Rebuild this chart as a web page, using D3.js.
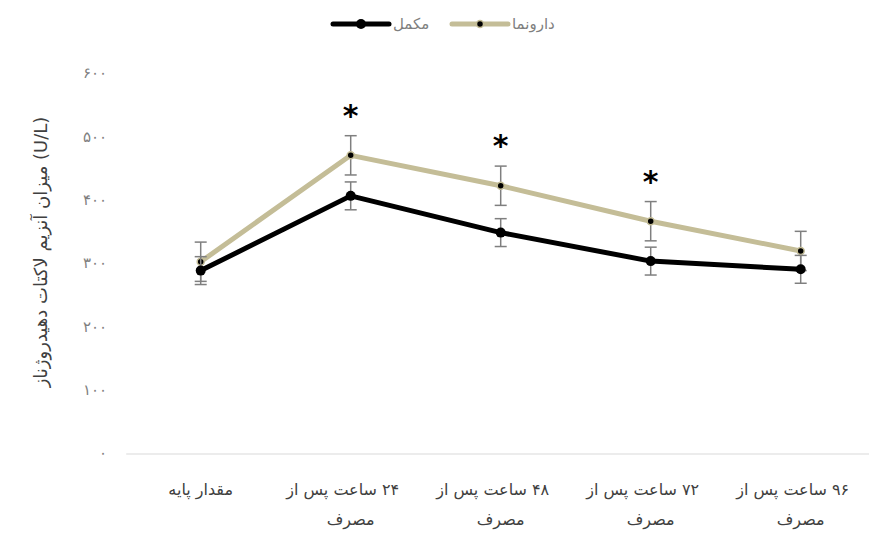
<!DOCTYPE html>
<html>
<head>
<meta charset="utf-8">
<script src="https://cdn.jsdelivr.net/npm/d3@7"></script>
<style>
  body { margin: 0; background: #fff; }
  svg { display: block; font-family: "DejaVu Sans", "Noto Sans", sans-serif; }
</style>
</head>
<body>
<div id="chart"></div>
<script>
// categories (each label split in its wrapped lines)
var categories = ["base", "h24", "h48", "h72", "h96"];
var categoryLines = [
    ["مقدار پایه"],
    ["۲۴ ساعت پس از", "مصرف"],
    ["۴۸ ساعت پس از", "مصرف"],
    ["۷۲ ساعت پس از", "مصرف"],
    ["۹۶ ساعت پس از", "مصرف"]
];

// series values (U/L) and standard errors
var placeboValues = [302, 470, 422, 366, 319];
var placeboErrors = [31, 31, 31, 31, 31];
var supplementValues = [288, 406, 348, 303, 290];
var supplementErrors = [22, 22, 22, 22, 22];
var significant = [false, true, true, true, false];

var yTicks = [0, 100, 200, 300, 400, 500, 600];
var yTickLabels = ["۰", "۱۰۰", "۲۰۰", "۳۰۰", "۴۰۰", "۵۰۰", "۶۰۰"];

var seriesNames = ["مکمل", "دارونما"];

var W = 869, H = 535;
var svg = d3.select("#chart").append("svg").attr("width", W).attr("height", H);

var x = d3.scaleBand().domain(categories).range([125.7, 875.7]);
var y = d3.scaleLinear().domain([0, 600]).range([453, 73]);
function cx(i) { return x(categories[i]) + x.bandwidth() / 2; }

// y tick labels (no axis line, no grid)
var yAxis = svg.append("g")
    .attr("transform", "translate(107,0)")
    .call(d3.axisLeft(y).tickValues(yTicks).tickSize(0).tickPadding(0)
        .tickFormat(function(d, i) { return yTickLabels[i]; }));
yAxis.select(".domain").remove();
yAxis.selectAll("text")
    .style("font-size", "15px")
    .style("letter-spacing", "5px")
    .style("fill", "#7f7f7f");

// category axis
var xAxis = svg.append("g").attr("transform", "translate(0,453.5)")
    .call(d3.axisBottom(x).tickSize(0).tickFormat(""));
xAxis.select(".domain").attr("stroke", "#d9d9d9").attr("stroke-width", 1);

var labels = svg.append("g");
categoryLines.forEach(function(lines, i) {
    lines.forEach(function(t, j) {
        labels.append("text")
            .attr("x", cx(i) - (lines.length > 1 && j === 0 ? 8 : 0))
            .attr("y", 495 + j * 30)
            .attr("text-anchor", "middle")
            .attr("direction", "rtl")
            .style("font-size", "16px")
            .style("fill", "#404040")
            .text(t);
    });
});

// y title
svg.append("text")
    .attr("transform", "translate(47,252) rotate(-90)")
    .attr("text-anchor", "middle")
    .style("font-size", "18px")
    .style("fill", "#404040")
    .text("میزان آنزیم لاکتات دهیدروژناز (U/L)");

var line = d3.line().x(function(d, i) { return cx(i); }).y(function(d) { return y(d); });

function drawErrors(values, errors) {
    var g = svg.append("g").attr("stroke", "#7f7f7f").attr("stroke-width", 1.5);
    values.forEach(function(v, i) {
        var top = y(v + errors[i]), bot = y(v - errors[i]);
        g.append("line").attr("x1", cx(i)).attr("x2", cx(i)).attr("y1", top).attr("y2", bot);
        g.append("line").attr("x1", cx(i) - 6).attr("x2", cx(i) + 6).attr("y1", top).attr("y2", top);
        g.append("line").attr("x1", cx(i) - 6).attr("x2", cx(i) + 6).attr("y1", bot).attr("y2", bot);
    });
}

// placebo series
svg.append("path").datum(placeboValues)
    .attr("d", line).attr("fill", "none")
    .attr("stroke", "#c4bd97").attr("stroke-width", 5).attr("stroke-linejoin", "round");
drawErrors(placeboValues, placeboErrors);
svg.selectAll(".m-placebo").data(placeboValues).enter().append("circle")
    .attr("class", "m-placebo")
    .attr("cx", function(d, i) { return cx(i); })
    .attr("cy", function(d) { return y(d); })
    .attr("r", 3.5).attr("fill", "#000").attr("stroke", "#c4bd97").attr("stroke-width", 1.5);

// supplement series
svg.append("path").datum(supplementValues)
    .attr("d", line).attr("fill", "none")
    .attr("stroke", "#000").attr("stroke-width", 5).attr("stroke-linejoin", "round");
drawErrors(supplementValues, supplementErrors);
svg.selectAll(".m-supp").data(supplementValues).enter().append("circle")
    .attr("class", "m-supp")
    .attr("cx", function(d, i) { return cx(i); })
    .attr("cy", function(d) { return y(d); })
    .attr("r", 5).attr("fill", "#000");

// significance stars
significant.forEach(function(s, i) {
    if (!s) return;
    svg.append("text")
        .attr("x", cx(i))
        .attr("y", y(placeboValues[i] + placeboErrors[i]) - 10)
        .attr("text-anchor", "middle")
        .style("font-size", "30px")
        .style("font-weight", "bold")
        .style("fill", "#000")
        .text("*");
});

// legend
var legend = svg.append("g");
var legendX = [333, 452];
var legendColors = ["#000", "#c4bd97"];
seriesNames.forEach(function(name, i) {
    var lx = legendX[i];
    legend.append("line").attr("x1", lx).attr("x2", lx + 56).attr("y1", 24).attr("y2", 24)
        .attr("stroke", legendColors[i]).attr("stroke-width", 5).attr("stroke-linecap", "round");
    if (i === 0) {
        legend.append("circle").attr("cx", lx + 28).attr("cy", 24).attr("r", 5).attr("fill", "#000");
    } else {
        legend.append("circle").attr("cx", lx + 28).attr("cy", 24).attr("r", 3.5)
            .attr("fill", "#000").attr("stroke", "#c4bd97").attr("stroke-width", 1.5);
    }
    legend.append("text").attr("x", lx + 60).attr("y", 29)
        .style("font-size", "15px").style("fill", "#7f7f7f")
        .text(name);
});
</script>
</body>
</html>
